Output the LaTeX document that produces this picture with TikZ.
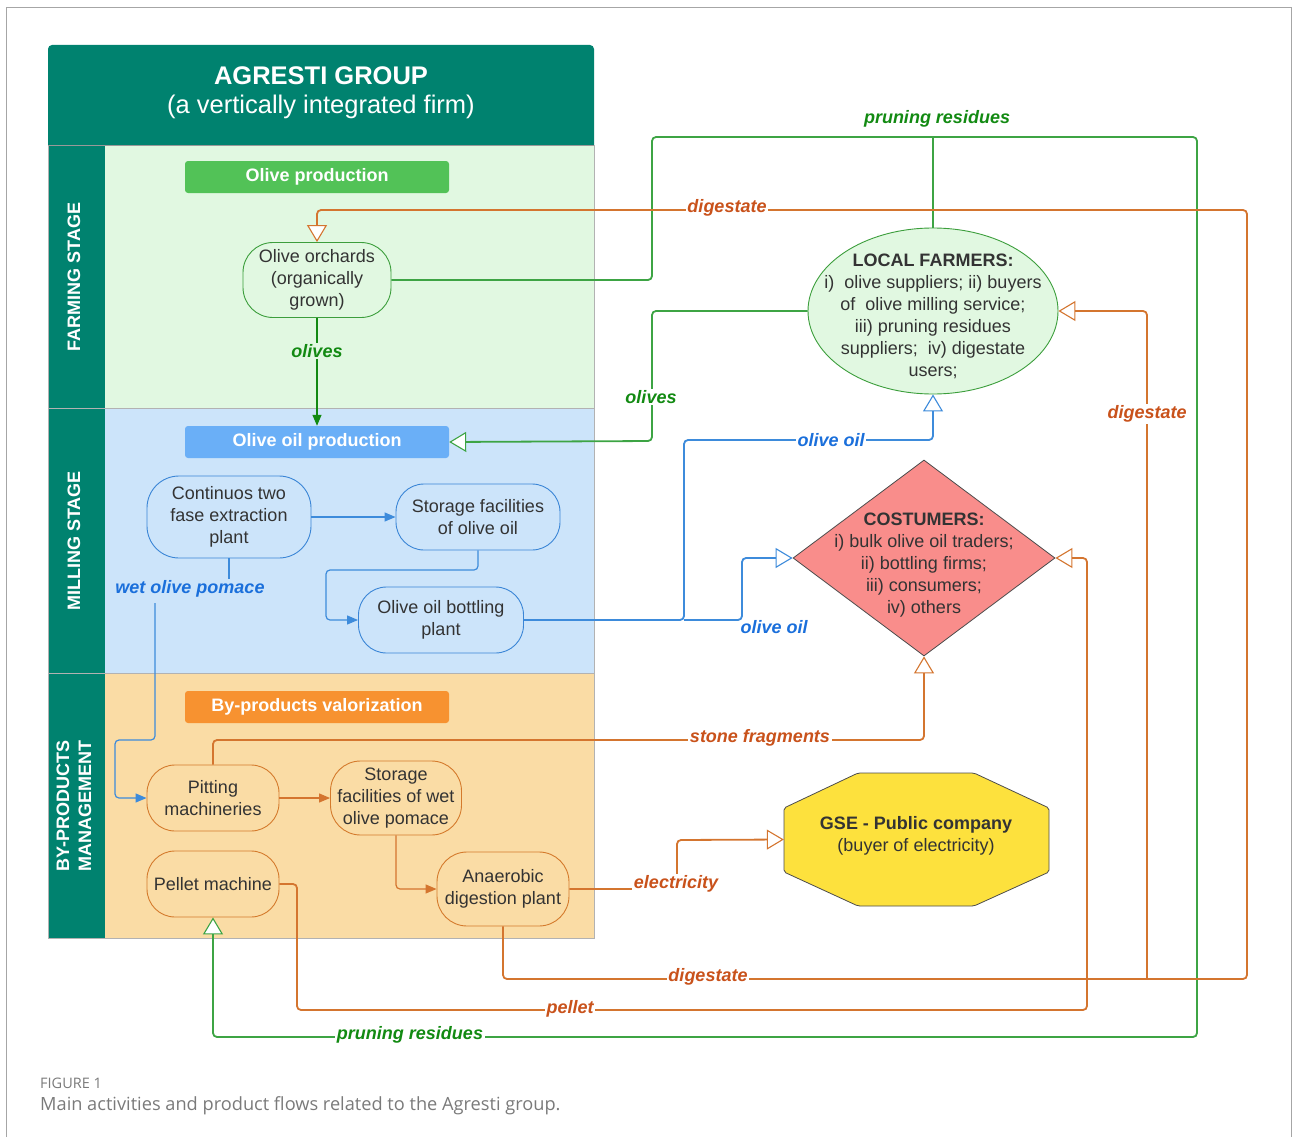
\documentclass[tikz,border=0pt]{standalone}
\usepackage{fontspec}
\setmainfont{Liberation Sans}
\newfontfamily\capfont{Open Sans}
\usetikzlibrary{arrows.meta,shapes.geometric,calc}
\definecolor{teal}{HTML}{00826F}
\definecolor{farmbg}{HTML}{E1F8E1}
\definecolor{millbg}{HTML}{CCE4FA}
\definecolor{bybg}{HTML}{FADCA5}
\definecolor{greenbar}{HTML}{52C257}
\definecolor{bluebar}{HTML}{6AAFF7}
\definecolor{orangebar}{HTML}{F79230}
\definecolor{lgreen}{HTML}{3DA444}
\definecolor{tgreen}{HTML}{128A12}
\definecolor{lorange}{HTML}{D4752F}
\definecolor{torange}{HTML}{C9521B}
\definecolor{lblue}{HTML}{3D8BDB}
\definecolor{tblue}{HTML}{1A6FDB}
\definecolor{bgreen}{HTML}{3C9E3C}
\definecolor{bblue}{HTML}{3A85D6}
\definecolor{borange}{HTML}{D47A2C}
\definecolor{custfill}{HTML}{F98D8B}
\definecolor{gsefill}{HTML}{FDE13D}
\definecolor{txt}{HTML}{333333}
\definecolor{capgray}{HTML}{7A7A7A}
\begin{document}
\begin{tikzpicture}[x=1pt,y=-1pt,
  nfont/.style={font=\fontsize{18}{22}\selectfont},
  proc/.style={nfont, draw, line width=0.9, rounded corners=28, align=center, text=txt, inner sep=0pt},
  gproc/.style={proc, draw=bgreen, fill=farmbg},
  bproc/.style={proc, draw=bblue, fill=millbg},
  oproc/.style={proc, draw=borange, fill=bybg},
  bar/.style={rounded corners=3, minimum width=264, minimum height=32, inner sep=0pt, text=white, font=\bfseries\fontsize{18}{22}\selectfont},
  lanelabel/.style={text=white, font=\bfseries\fontsize{18}{22}\selectfont, align=center, rotate=90},
  flabel/.style={font=\bfseries\itshape\fontsize{18}{20}\selectfont, inner sep=1.5pt},
  gline/.style={draw=lgreen, line width=1.8, rounded corners=4},
  oline/.style={draw=lorange, line width=1.8, rounded corners=4},
  bline/.style={draw=lblue, line width=1.8, rounded corners=4},
  thinb/.style={draw=lblue, line width=1.2, rounded corners=4},
  thino/.style={draw=lorange, line width=1.2, rounded corners=4},
  thing/.style={draw=lgreen, line width=1.2, rounded corners=4},
  opentip/.style={-{Triangle[length=17pt,width=20pt,fill=white,line width=1.1pt]}},
  filltip/.style={-{Triangle[length=11pt,width=9pt]}}
]
\useasboundingbox (0,0) rectangle (1292,1137);
% frame
\draw[gray!70, line width=1] (6,1137) -- (6,8) -- (1291,8) -- (1291,1137);

% header
\fill[teal, rounded corners=4] (48,45) rectangle (594,150);
\node[text=white, font=\bfseries\fontsize{25.5}{30}\selectfont] (title) at (321,76) {AGRESTI GROUP};
\node[text=white, font=\fontsize{25.5}{30}\selectfont] (subtitle) at (321,107) {(a vertically integrated firm)};

% lanes
\fill[farmbg] (105,145) rectangle (594,408);
\fill[millbg] (105,408) rectangle (594,673);
\fill[bybg] (105,673) rectangle (594,938);
\fill[teal] (48,145) rectangle (105,938);
\draw[gray!60, line width=0.8] (48,145) rectangle (594,938);
\draw[gray!60, line width=0.8] (48,408) -- (594,408);
\draw[gray!60, line width=0.8] (48,673) -- (594,673);
\draw[black!40, line width=0.8] (48,145) -- (594,145);

\node[lanelabel] (fs) at (74,277) {FARMING STAGE};
\node[lanelabel] (ms) at (74,541) {MILLING STAGE};
\node[lanelabel] (bpm) at (74,806) {BY-PRODUCTS\\MANAGEMENT};

% title bars
\node[bar, fill=greenbar] (op) at (317,177) {Olive production};
\node[bar, fill=bluebar] (oop) at (317,442) {Olive oil production};
\node[bar, fill=orangebar] (bpv) at (317,707) {By-products valorization};

% process nodes
\node[gproc, minimum width=148, minimum height=75, rounded corners=30] (orch) at (317,280) {Olive orchards\\(organically\\grown)};
\node[bproc, minimum width=164, minimum height=82, rounded corners=32] (ext) at (229,517) {Continuos two\\fase extraction\\plant};
\node[bproc, minimum width=164, minimum height=66] (sto) at (478,517) {Storage facilities\\of olive oil};
\node[bproc, minimum width=165, minimum height=66] (bot) at (441,620) {Olive oil bottling\\plant};
\node[oproc, minimum width=132, minimum height=66] (pit) at (213,798) {Pitting\\machineries};
\node[oproc, minimum width=131, minimum height=74, rounded corners=30] (swp) at (396,798) {Storage\\facilities of wet\\olive pomace};
\node[oproc, minimum width=132, minimum height=66] (pel) at (213,884) {Pellet machine};
\node[oproc, minimum width=132, minimum height=74, rounded corners=30] (ad) at (503,889) {Anaerobic\\digestion plant};

% local farmers
\node[ellipse, draw=bgreen, fill=farmbg, line width=0.9, minimum width=250, minimum height=166, inner sep=0pt] (farm) at (933,311) {};
\node[nfont, text=txt, align=center] (farmtxt) at (933,316) {\textbf{LOCAL FARMERS:}\\i)\ \ olive suppliers; ii) buyers\\of\ \ olive milling service;\\iii) pruning residues\\suppliers;\ \ iv) digestate\\users;};

% customers
\node[diamond, draw=black!70, fill=custfill, line width=0.8, minimum width=262, minimum height=196, inner sep=0pt] (cust) at (924,558) {};
\node[nfont, text=txt, align=center] (custtxt) at (924,565) {\textbf{COSTUMERS:}\\i) bulk olive oil traders;\\ii) bottling firms;\\iii) consumers;\\iv) others};

% GSE octagon
\node[minimum width=265, minimum height=133, inner sep=0pt] (gse) at (916.5,839.5) {};
\draw[draw=black!70, fill=gsefill, line width=0.8, rounded corners=2]
  (858,773) -- (974,773) -- (1049,808) -- (1049,872) -- (974,906) -- (858,906) -- (784,872) -- (784,808) -- cycle;
\node[nfont, text=txt, align=center] (gsetxt) at (916,836) {\textbf{GSE - Public company}\\(buyer of electricity)};

% ---------- connectors ----------
% olives orchard -> olive oil production
\draw[thing, draw=tgreen, filltip] (orch.south) -- (oop.north);
\node[flabel, text=tgreen, fill=farmbg] (lolives1) at (317,351) {olives};

% pruning residues
\coordinate (prA) at (652,137);
\coordinate (prB) at (1197,137);
\coordinate (prC) at (1197,1037);
\draw[gline, opentip] (orch.east) -| (prA) -- (prB) -- (prC) -| (pel.south);
\draw[gline] (farm.north) -- (farm.north |- prA);
\node[flabel, text=tgreen] (lpr1) at (937,119) {pruning residues};
\node[flabel, text=tgreen, fill=white] (lpr2) at (410,1035) {pruning residues};

% olives from local farmers
\coordinate (olA) at (652,441);
\draw[gline, opentip] (farm.west) -| (olA) -- (oop.east);
\node[flabel, text=tgreen, fill=white] (lolives2) at (651,397) {olives};

% digestate
\coordinate (dgA) at (1247,979);
\coordinate (dgB) at (1247,210);
\coordinate (dgC) at (1147,979);
\coordinate (dgD) at (1147,311);
\draw[oline, opentip] (ad.south) |- (dgA) -- (dgB) -| (orch.north);
\draw[oline, opentip] (dgC) -- (dgD) -- (farm.east);
\node[flabel, text=torange, fill=white] (ldg1) at (727,208) {digestate};
\node[flabel, text=torange, fill=white] (ldg2) at (708,977) {digestate};
\node[flabel, text=torange, fill=white] (ldg3) at (1147,414) {digestate};

% stone fragments
\coordinate (sfA) at (924,740);
\draw[oline, opentip] (pit.north) |- (sfA) -- (cust.south);
\node[flabel, text=torange, fill=white] (lsf) at (760,738) {stone fragments};

% electricity
\coordinate (elA) at (677,840);
\draw[oline, opentip] (ad.east) -| (elA) -- (gse.west);
\node[flabel, text=torange, fill=white] (lel) at (676,884) {electricity};

% pellet
\coordinate (peA) at (297,1010);
\coordinate (peB) at (1087,1010);
\draw[oline, opentip] (pel.east) -| (peA) -- (peB) |- (cust.east);
\node[flabel, text=torange, fill=white] (lpe) at (570,1009) {pellet};

% milling internal
\draw[thinb, filltip] (ext.east) -- (sto.west);
\coordinate (stA) at (326,570);
\draw[thinb, filltip] (sto.south) |- (stA) |- (bot.west);

% olive oil
\coordinate (ooA) at (684,440);
\coordinate (ooB) at (684,620);
\coordinate (ooC) at (742,558);
\draw[bline, opentip] (bot.east) -| (ooA) -| (farm.south);
\draw[bline, opentip] (ooB) -| (ooC) -- (cust.west);
\node[flabel, text=tblue, fill=white] (loo1) at (831,440) {olive oil};
\node[flabel, text=tblue] (loo2) at (774,627) {olive oil};

% wet olive pomace
\node[flabel, text=tblue, fill=millbg] (lwop) at (190,589) {wet olive pomace};
\draw[thinb] (ext.south) -- (ext.south |- lwop.north);
\coordinate (wpA) at (155,603);
\coordinate (wpB) at (155,740);
\coordinate (wpC) at (115,740);
\draw[thinb, filltip] (wpA) -- (wpB) -- (wpC) |- (pit.west);

% by-products internal
\draw[thino, filltip] (pit.east) -- (swp.west);
\draw[thino, filltip] (swp.south) |- (ad.west);

% caption
\node[anchor=west, font=\capfont\fontsize{14.5}{16}\selectfont, text=capgray, inner sep=0pt] (figno) at (40,1083) {FIGURE 1};
\node[anchor=west, font=\capfont\fontsize{18.2}{21}\selectfont, text=capgray, inner sep=0pt] (caption) at (40,1106) {Main activities and product flows related to the Agresti group.};
\end{tikzpicture}
\end{document}
